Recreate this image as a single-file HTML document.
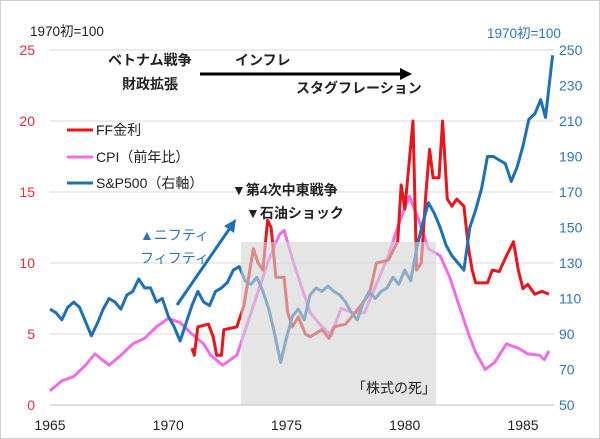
<!DOCTYPE html>
<html><head><meta charset="utf-8"><style>
html,body{margin:0;padding:0;background:#fff}
svg{display:block;font-family:"Liberation Sans","Noto Sans CJK JP",sans-serif}
</style></head><body>
<svg id="chart" width="600" height="439" viewBox="0 0 600 439">
<rect x="0.5" y="0.5" width="599" height="438" fill="#fff" stroke="#d0d0d0"/>
<g id="grid"></g>
<g id="series"></g>
<rect x="241" y="242" width="195" height="163" fill="#d4d4d4" opacity="0.6"/>
<g id="axes"></g>
<g font-size="14" fill="#222">
<text x="30" y="36" font-size="13.5">1970初=100</text>
<text x="487" y="38" font-size="13.5" fill="#2e75b6">1970初=100</text>
<text x="108" y="65" font-weight="bold">ベトナム戦争</text>
<text x="122" y="89" font-weight="bold">財政拡張</text>
<text x="235" y="65" font-weight="bold">インフレ</text>
<text x="296" y="93" font-weight="bold">スタグフレーション</text>
<text x="232" y="195" font-weight="bold">▼第4次中東戦争</text>
<text x="246" y="218" font-weight="bold">▼石油ショック</text>
<text x="140" y="240" fill="#2e75b6">▲ニフティ</text>
<text x="140" y="263" fill="#2e75b6">フィフティ</text>
<text x="352" y="393">「株式の死」</text>
</g>
<line x1="200" y1="74" x2="402" y2="74" stroke="#000" stroke-width="3"/>
<polygon points="400,68 412,74 400,80" fill="#000"/>
<line x1="177" y1="305" x2="230" y2="228" stroke="#1f6fb5" stroke-width="3"/>
<polygon points="224,226 236,219 234,233" fill="#1f6fb5"/>
<g font-size="14" fill="#222">
<line x1="67" y1="130" x2="93" y2="130" stroke="#e8161c" stroke-width="3"/>
<text x="96" y="135">FF金利</text>
<line x1="67" y1="157" x2="93" y2="157" stroke="#ee6ee8" stroke-width="3"/>
<text x="96" y="162">CPI（前年比）</text>
<line x1="67" y1="183" x2="93" y2="183" stroke="#1f6fb5" stroke-width="3"/>
<text x="96" y="188">S&amp;P500（右軸）</text>
</g>
</svg>
<script>
const xTicks=[1965,1970,1975,1980,1985];
const leftTicks=[0,5,10,15,20,25];
const rightTicks=[50,70,90,110,130,150,170,190,210,230,250];
const spYears=[1965,1965.25,1965.5,1965.75,1966,1966.25,1966.5,1966.75,1967,1967.25,1967.5,1967.75,1968,1968.25,1968.5,1968.75,1969,1969.25,1969.5,1969.75,1970,1970.25,1970.5,1970.75,1971,1971.25,1971.5,1971.75,1972,1972.25,1972.5,1972.75,1973,1973.25,1973.5,1973.75,1974,1974.25,1974.5,1974.75,1975,1975.25,1975.5,1975.75,1976,1976.25,1976.5,1976.75,1977,1977.25,1977.5,1977.75,1978,1978.25,1978.5,1978.75,1979,1979.25,1979.5,1979.75,1980,1980.25,1980.5,1980.75,1981,1981.25,1981.5,1981.75,1982,1982.25,1982.5,1982.75,1983,1983.25,1983.5,1983.75,1984,1984.25,1984.5,1984.75,1985,1985.25,1985.5,1985.75,1985.95,1986.25];
const spValues=[104,102,98,105,108,105,97,89,96,104,110,108,104,112,114,121,116,116,108,110,100,94,86,96,106,114,108,106,114,116,119,126,128,120,118,122,114,104,90,74,88,100,104,98,112,116,114,117,114,112,108,102,98,108,114,110,114,116,122,118,126,120,138,152,164,158,150,140,134,130,126,150,160,172,190,190,188,186,176,184,196,211,214,222,212,247];
const ffYears=[1971,1971.1,1971.25,1971.7,1971.9,1972.05,1972.25,1972.35,1972.9,1973.2,1973.5,1973.6,1973.8,1974,1974.2,1974.35,1974.55,1974.9,1975.05,1975.25,1975.5,1975.8,1976,1976.5,1976.8,1977,1977.5,1978,1978.5,1978.8,1979.3,1979.7,1979.85,1980,1980.1,1980.35,1980.5,1980.7,1980.9,1981.05,1981.2,1981.45,1981.6,1981.8,1982,1982.2,1982.5,1982.7,1982.85,1983,1983.5,1983.7,1984,1984.3,1984.6,1984.8,1985,1985.2,1985.5,1985.8,1986.1];
const ffValues=[4,3.5,5.5,5.7,4.8,3.5,3.5,5.3,5.5,7,10,11,10,9.5,13,12.5,9,9,6.5,5.5,6.2,5,4.8,5.3,4.7,5.5,5.7,6.7,7.8,10,10.2,11.5,15.5,13.8,15.5,20,9.5,10,15,18,16,16,20,14.5,14,14.5,14,11,9.5,8.6,8.6,9.5,9.4,10.5,11.5,9.5,8.2,8.5,7.8,8,7.8];
const cpiYears=[1965,1965.5,1966,1966.5,1966.9,1967.5,1968,1968.5,1969,1969.5,1970,1970.5,1971,1971.5,1971.8,1972.3,1972.9,1973.3,1973.7,1974.2,1974.7,1974.9,1975.3,1975.6,1976,1976.5,1976.9,1977.3,1977.8,1978.3,1978.8,1979.3,1979.8,1980.2,1980.6,1981,1981.5,1981.9,1982.3,1982.7,1983,1983.4,1983.8,1984.3,1984.8,1985.2,1985.7,1985.9,1986.1];
const cpiValues=[1,1.7,2,2.8,3.6,2.8,3.5,4.3,4.7,5.5,6.1,5.8,5,4.3,3.5,2.8,3.5,5.5,7.5,10,12,12.3,10,8.5,6.5,5.5,4.9,6.8,6.5,6.5,8.5,10.5,13,14.7,13,11,10.5,9,7,5,3.7,2.5,3,4.3,4,3.6,3.5,3.2,3.8];
const NS='http://www.w3.org/2000/svg';
function xs(y){return 50+(y-1965)*23.65;}
function yl(v){return 405-v*14.2;}
function yr(v){return 405-(v-50)*1.775;}
const grid=document.getElementById('grid'),axes=document.getElementById('axes'),ser=document.getElementById('series');
leftTicks.forEach((t,i)=>{
 const l=document.createElementNS(NS,'line');
 l.setAttribute('x1',50);l.setAttribute('x2',554);l.setAttribute('y1',yl(t));l.setAttribute('y2',yl(t));
 l.setAttribute('stroke',i===0?'#bdbdbd':'#d9d9d9');
 
 
 grid.appendChild(l);
 const tx=document.createElementNS(NS,'text');
 tx.setAttribute('x',35);tx.setAttribute('y',yl(t)+5);tx.setAttribute('text-anchor','end');
 tx.setAttribute('font-size','14');tx.setAttribute('fill','#e0303a');tx.textContent=t;
 
 
 axes.appendChild(tx);
});
rightTicks.forEach(t=>{
 const tx=document.createElementNS(NS,'text');
 tx.setAttribute('x',559);tx.setAttribute('y',yr(t)+5);
 tx.setAttribute('font-size','14');tx.setAttribute('fill','#2e75b6');tx.textContent=t;
 
 
 axes.appendChild(tx);
});
xTicks.forEach(t=>{
 const tx=document.createElementNS(NS,'text');
 tx.setAttribute('x',xs(t));tx.setAttribute('y',430);tx.setAttribute('text-anchor','middle');
 tx.setAttribute('font-size','14');tx.setAttribute('fill','#222');tx.textContent=t;
 
 
 axes.appendChild(tx);
});
function line(xsA,vals,fy,color,name){
 const p=document.createElementNS(NS,'polyline');
 p.setAttribute('points',xsA.map((x,i)=>xs(x).toFixed(1)+','+fy(vals[i]).toFixed(1)).join(' '));
 p.setAttribute('fill','none');p.setAttribute('stroke',color);p.setAttribute('stroke-width','3');
 p.setAttribute('stroke-linejoin','round');
 
 
 ser.appendChild(p);
}
line(cpiYears,cpiValues,yl,'#ee6ee8','cpi-line');
line(ffYears,ffValues,yl,'#e8161c','ff-rate-line');
line(spYears,spValues,yr,'#1f6fb5','sp500-line');
</script>
</body></html>
